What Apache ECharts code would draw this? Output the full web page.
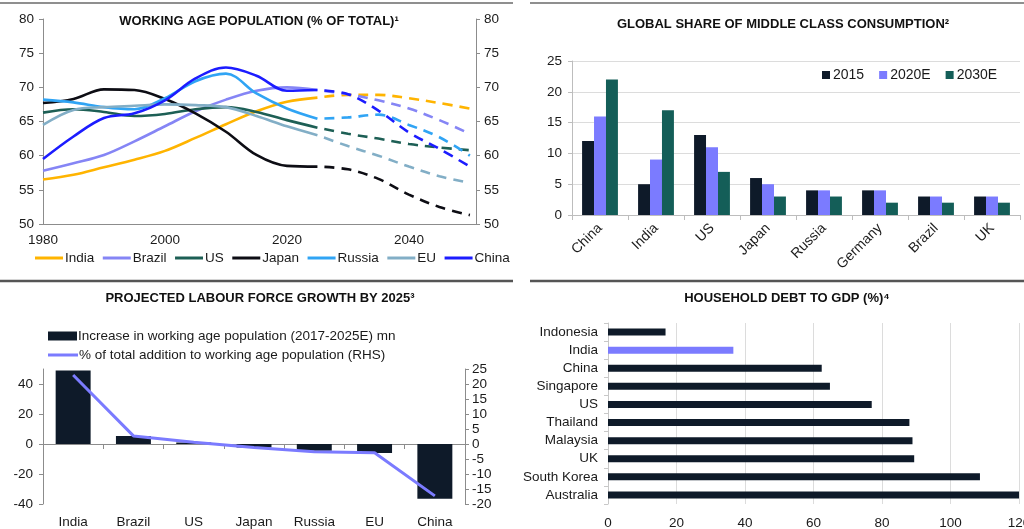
<!DOCTYPE html>
<html>
<head>
<meta charset="utf-8">
<script src="https://cdn.jsdelivr.net/npm/echarts@6/dist/echarts.min.js"></script>
<style>
  html, body { margin: 0; padding: 0; background: #ffffff; }
  #chart { width: 1024px; height: 529px; }
</style>
</head>
<body>
<div id="chart"></div>
<script>
// ---- Working age population (% of total) ----
const histYears = [1980, 1985, 1990, 1995, 2000, 2005, 2010, 2015, 2020, 2025];
const projYears = [2025, 2030, 2035, 2040, 2045, 2050];
const popCountries = ['India', 'Brazil', 'US', 'Japan', 'Russia', 'EU', 'China'];

const indiaHist  = [56.5, 57.2, 58.3, 59.4, 60.7, 62.6, 64.6, 66.5, 67.9, 68.5];
const indiaProj  = [68.5, 68.9, 68.9, 68.4, 67.7, 66.9];
const brazilHist = [57.8, 58.9, 60.1, 62.1, 64.3, 66.5, 68.2, 69.5, 70.0, 69.6];
const brazilProj = [69.6, 69.0, 68.1, 66.9, 65.2, 63.2];
const usHist     = [66.3, 66.8, 66.4, 65.8, 66.1, 66.8, 67.1, 66.4, 65.2, 64.1];
const usProj     = [64.1, 63.2, 62.5, 61.7, 61.2, 60.8];
const japanHist  = [67.7, 68.3, 69.7, 69.6, 68.3, 66.2, 63.5, 60.1, 58.5, 58.4];
const japanProj  = [58.4, 58.0, 56.6, 54.3, 52.5, 51.3];
const russiaHist = [68.2, 67.8, 67.1, 66.8, 68.4, 70.9, 72.0, 69.1, 66.9, 65.4];
const russiaProj = [65.4, 65.6, 66.0, 64.5, 62.7, 60.0];
const euHist     = [64.5, 66.7, 67.1, 67.3, 67.5, 67.4, 67.1, 65.8, 64.3, 63.0];
const euProj     = [63.0, 61.4, 60.0, 58.4, 57.0, 56.0];
const chinaHist  = [59.5, 62.8, 65.5, 66.2, 68.1, 71.3, 72.9, 71.7, 69.5, 69.6];
const chinaProj  = [69.6, 69.0, 66.6, 63.4, 61.0, 58.4];

// ---- Global share of middle class consumption ----
const consCategories = ['China', 'India', 'US', 'Japan', 'Russia', 'Germany', 'Brazil', 'UK'];
const cons2015  = [12, 5, 13, 6, 4, 4, 3, 3];
const cons2020E = [16, 9, 11, 5, 4, 4, 3, 3];
const cons2030E = [22, 17, 7, 3, 3, 2, 2, 2];

// ---- Projected labour force growth by 2025 ----
const labourCategories = ['India', 'Brazil', 'US', 'Japan', 'Russia', 'EU', 'China'];
const labourIncrease = [49, 5.3, 1, -2.4, -4.5, -6, -36.5];
const labourShare    = [23, 2.7, 0.6, -1.2, -2.6, -2.9, -17.3];

// ---- Household debt to GDP (%) ----
const debtCountries = ['Indonesia', 'India', 'China', 'Singapore', 'US', 'Thailand', 'Malaysia', 'UK', 'South Korea', 'Australia'];
const debtValues    = [16.8, 36.6, 62.4, 64.8, 77, 88, 88.9, 89.4, 108.6, 120];

const FONT = '"Liberation Sans", Arial, "DejaVu Sans", sans-serif';
const TXT = '#1a1a1a';
const AXIS = '#8c8c8c';
const NAVY = '#0e1a29';
const LILAC = '#7b7bff';
const TEAL = '#145e58';

const popColors = {
  India: '#ffb400', Brazil: '#8585f5', US: '#1d5f55', Japan: '#0d0d14',
  Russia: '#30a4f4', EU: '#82aec6', China: '#1c1cff'
};
const popHist = { India: indiaHist, Brazil: brazilHist, US: usHist, Japan: japanHist, Russia: russiaHist, EU: euHist, China: chinaHist };
const popProj = { India: indiaProj, Brazil: brazilProj, US: usProj, Japan: japanProj, Russia: russiaProj, EU: euProj, China: chinaProj };

const pair = (xs, ys) => xs.map((x, i) => [x, ys[i]]);

const LABOUR_BAR = 'Increase in working age population (2017-2025E) mn';
const LABOUR_LINE = '% of total addition to working age population (RHS)';

const series = [];
popCountries.forEach(name => {
  series.push({
    type: 'line', name, xAxisIndex: 0, yAxisIndex: 0,
    data: pair(histYears, popHist[name]),
    smooth: 0.35, symbol: 'none',
    lineStyle: { color: popColors[name], width: 2.6 },
    itemStyle: { color: popColors[name] }
  });
  series.push({
    type: 'line', name, xAxisIndex: 0, yAxisIndex: 0,
    data: pair(projYears, popProj[name]),
    smooth: 0.35, symbol: 'none',
    lineStyle: { color: popColors[name], width: 2.6, type: [10, 7], dashOffset: 10 },
    itemStyle: { color: popColors[name] }
  });
});

[['2015', cons2015, NAVY], ['2020E', cons2020E, LILAC], ['2030E', cons2030E, TEAL]].forEach(([name, vals, color]) => {
  series.push({
    type: 'bar', name, xAxisIndex: 1, yAxisIndex: 2, data: vals,
    barGap: '0%', barCategoryGap: '36%',
    itemStyle: { color }
  });
});

series.push({
  type: 'bar', name: LABOUR_BAR,
  xAxisIndex: 2, yAxisIndex: 3, data: labourIncrease,
  barWidth: '58%', itemStyle: { color: NAVY }
});
series.push({
  type: 'line', name: LABOUR_LINE,
  xAxisIndex: 2, yAxisIndex: 4, data: labourShare,
  symbol: 'none', lineStyle: { color: LILAC, width: 3 }, itemStyle: { color: LILAC }
});

series.push({
  type: 'bar', name: 'Household debt to GDP',
  xAxisIndex: 4, yAxisIndex: 5, data: debtValues, barWidth: 7,
  itemStyle: { color: p => (p.name === 'India' ? LILAC : NAVY) }
});

const lbl = (extra) => Object.assign({ color: TXT, fontFamily: FONT, fontSize: 13.5 }, extra || {});

const option = {
  animation: false,
  backgroundColor: '#ffffff',
  textStyle: { fontFamily: FONT, color: TXT },
  grid: [
    { left: 43, top: 19, right: 548, bottom: 305, outerBoundsMode: 'none' },
    { left: 572, top: 61, right: 4, bottom: 314, outerBoundsMode: 'none' },
    { left: 43, top: 369, right: 559, bottom: 25, outerBoundsMode: 'none' },
    { left: 608, top: 323, right: 5, bottom: 25, outerBoundsMode: 'none' }
  ],
  legend: [
    {
      data: popCountries, left: 35, top: 251, padding: 0, itemGap: 8.5, itemWidth: 28, itemHeight: 3,
      icon: 'rect', textStyle: lbl({ padding: [0, 0, 0, -3] }), selectedMode: false
    },
    {
      data: ['2015', '2020E', '2030E'], left: 822, top: 68, padding: 0, itemGap: 15, itemWidth: 8, itemHeight: 8,
      icon: 'rect', textStyle: lbl({ fontSize: 14, padding: [0, 0, 0, -2] }), selectedMode: false
    },
    {
      data: [LABOUR_BAR], left: 48, top: 329, padding: 0, itemWidth: 29, itemHeight: 9,
      icon: 'rect', textStyle: lbl({ padding: [0, 0, 0, -4] }), selectedMode: false
    },
    {
      data: [LABOUR_LINE], left: 48, top: 348, padding: 0, itemWidth: 30, itemHeight: 3,
      icon: 'rect', textStyle: lbl({ padding: [0, 0, 0, -4] }), selectedMode: false
    }
  ],
  xAxis: [
    {
      gridIndex: 0, type: 'value', min: 1980, max: 2051, interval: 20,
      axisLine: { show: true, lineStyle: { color: AXIS } },
      axisTick: { show: false }, splitLine: { show: false },
      axisLabel: lbl({ margin: 9, showMaxLabel: false, formatter: v => String(v) })
    },
    {
      gridIndex: 1, type: 'category', data: consCategories,
      axisLine: { lineStyle: { color: '#bdbdbd' } },
      axisTick: { show: true, lineStyle: { color: '#bdbdbd' }, length: 5 },
      axisLabel: lbl({ rotate: 45, margin: 11, fontSize: 14, interval: 0 })
    },
    {
      gridIndex: 2, type: 'category', data: labourCategories, position: 'bottom',
      axisLine: { show: false, onZero: false }, axisTick: { show: false },
      axisLabel: lbl({ margin: 11, interval: 0 })
    },
    {
      gridIndex: 2, type: 'category', data: labourCategories, position: 'top',
      axisLine: { show: true, onZero: true, onZeroAxisIndex: 3, lineStyle: { color: AXIS } },
      axisTick: { show: true, inside: true, length: 5, lineStyle: { color: AXIS } },
      axisLabel: { show: false }
    },
    {
      gridIndex: 3, type: 'value', min: 0, max: 120, interval: 20,
      axisLine: { show: false }, axisTick: { show: false },
      splitLine: { show: true, lineStyle: { color: '#dcdcdc' } },
      axisLabel: lbl({ margin: 12 })
    }
  ],
  yAxis: [
    {
      gridIndex: 0, type: 'value', position: 'left', min: 50, max: 80, interval: 5,
      axisLine: { show: true, lineStyle: { color: AXIS } },
      axisTick: { show: true, length: 4, lineStyle: { color: AXIS } },
      splitLine: { show: false }, axisLabel: lbl({ margin: 9 })
    },
    {
      gridIndex: 0, type: 'value', position: 'right', min: 50, max: 80, interval: 5,
      axisLine: { show: true, lineStyle: { color: AXIS } },
      axisTick: { show: true, length: 4, lineStyle: { color: AXIS } },
      splitLine: { show: false }, axisLabel: lbl({ margin: 8 })
    },
    {
      gridIndex: 1, type: 'value', min: 0, max: 25, interval: 5,
      axisLine: { show: true, lineStyle: { color: '#bdbdbd' } },
      axisTick: { show: true, length: 4, lineStyle: { color: '#bdbdbd' } },
      splitLine: { show: true, lineStyle: { color: '#dcdcdc' } },
      axisLabel: lbl({ margin: 10 })
    },
    {
      gridIndex: 2, type: 'value', position: 'left', min: -40, max: 50, interval: 20,
      axisLine: { show: true, lineStyle: { color: AXIS } },
      axisTick: { show: true, length: 4, lineStyle: { color: AXIS } },
      splitLine: { show: false }, axisLabel: lbl({ margin: 10, showMaxLabel: false })
    },
    {
      gridIndex: 2, type: 'value', position: 'right', min: -20, max: 25, interval: 5,
      axisLine: { show: true, lineStyle: { color: AXIS } },
      axisTick: { show: true, length: 4, lineStyle: { color: AXIS } },
      splitLine: { show: false }, axisLabel: lbl({ margin: 7 })
    },
    {
      gridIndex: 3, type: 'category', data: debtCountries, inverse: true,
      axisLine: { show: true, lineStyle: { color: '#c8c8c8' } },
      axisTick: { show: true, length: 4, lineStyle: { color: '#c8c8c8' } },
      axisLabel: lbl({ margin: 10, fontSize: 13.5, interval: 0 })
    }
  ],
  graphic: [
    { type: 'line', shape: { x1: 0, y1: 3, x2: 513, y2: 3 }, style: { stroke: '#6a6a6a', lineWidth: 1.5 } },
    { type: 'line', shape: { x1: 530, y1: 3, x2: 1024, y2: 3 }, style: { stroke: '#6a6a6a', lineWidth: 1.5 } },
    { type: 'line', shape: { x1: 0, y1: 281, x2: 513, y2: 281 }, style: { stroke: '#555555', lineWidth: 2.5 } },
    { type: 'line', shape: { x1: 530, y1: 281, x2: 1024, y2: 281 }, style: { stroke: '#555555', lineWidth: 2.5 } },
    { type: 'text', x: 259, y: 21, style: { text: 'WORKING AGE POPULATION (% OF TOTAL)¹', font: 'bold 13px ' + FONT, fill: '#111', textAlign: 'center', textVerticalAlign: 'middle' } },
    { type: 'text', x: 783, y: 24, style: { text: 'GLOBAL SHARE OF MIDDLE CLASS CONSUMPTION²', font: 'bold 13px ' + FONT, fill: '#111', textAlign: 'center', textVerticalAlign: 'middle' } },
    { type: 'text', x: 260, y: 298, style: { text: 'PROJECTED LABOUR FORCE GROWTH BY 2025³', font: 'bold 13px ' + FONT, fill: '#111', textAlign: 'center', textVerticalAlign: 'middle' } },
    { type: 'text', x: 787, y: 298, style: { text: 'HOUSEHOLD DEBT TO GDP (%)⁴', font: 'bold 13px ' + FONT, fill: '#111', textAlign: 'center', textVerticalAlign: 'middle' } }
  ],
  series
};

const chart = echarts.init(document.getElementById('chart'), null, { renderer: 'canvas' });
chart.setOption(option);
</script>
</body>
</html>
